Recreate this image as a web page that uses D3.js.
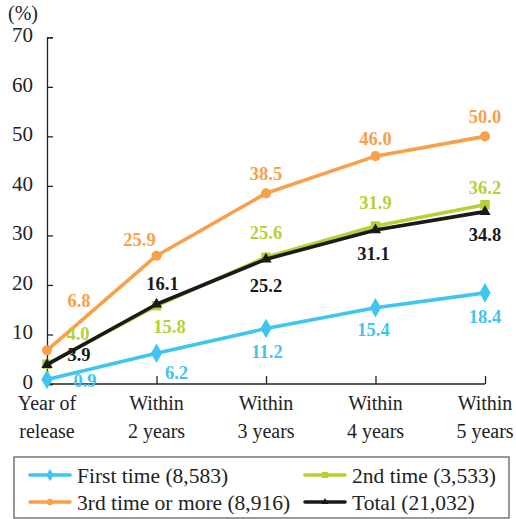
<!DOCTYPE html>
<html><head><meta charset="utf-8">
<script src="https://cdn.jsdelivr.net/npm/d3@7/dist/d3.min.js"></script>
<style>
body{margin:0;background:#fff;}
svg{display:block;font-family:"Liberation Serif","Times New Roman",serif;}
</style></head>
<body>
<svg id="chart" width="516" height="519"></svg>
<script>
const categories = [["Year of","release"],["Within","2 years"],["Within","3 years"],["Within","4 years"],["Within","5 years"]];
const yTicks = [0,10,20,30,40,50,60,70];
const seriesNames = ["First time (8,583)","2nd time (3,533)","3rd time or more (8,916)","Total (21,032)"];
const firstTime = [0.9, 6.2, 11.2, 15.4, 18.4];
const secondTime = [4.0, 15.8, 25.6, 31.9, 36.2];
const thirdTime = [6.8, 25.9, 38.5, 46.0, 50.0];
const total = [3.9, 16.1, 25.2, 31.1, 34.8];

const colors = ["#3fc5f0","#b3d235","#f8a04a","#1a1a1a"];
const symbols = [d3.symbolDiamond, d3.symbolSquare, d3.symbolCircle, d3.symbolTriangle];
const symSizes = [110, 90, 80, 55];
// label offsets (dx, dy relative to point) per series per point
const labelOffsets = [
  [[38,1],[20,19],[1,23],[-2,22],[0,24]],
  [[31,-31],[13,21],[0,-25],[0,-23],[0,-17]],
  [[32,-50],[-17,-16],[0,-20],[0,-18],[0,-20]],
  [[32,-10],[6,-21],[0,26],[-2,24],[0,23]]
];
const values = [firstTime, secondTime, thirdTime, total];

const svg = d3.select("#chart");
const x = d3.scalePoint().domain(d3.range(categories.length)).range([47,485]);
const y = d3.scaleLinear().domain([0,70]).range([384,37.3]);
const FONT = "'Liberation Serif','Times New Roman',serif";

// axes
const yAxis = d3.axisLeft(y).tickValues(yTicks).tickSize(-6).tickPadding(14);
const gy = svg.append("g").attr("transform","translate(47,0)").call(yAxis);
gy.select(".domain").attr("stroke","#222").attr("stroke-width",1.3);
gy.selectAll(".tick line").attr("stroke","#222").attr("stroke-width",1.3);
gy.selectAll(".tick text").attr("font-size",21).attr("fill","#222")
  .attr("font-family",FONT).attr("dy","0.2em").attr("x",-14);

const xAxis = d3.axisBottom(x).tickSize(-8).tickFormat("");
const gx = svg.append("g").attr("transform","translate(0,384)").call(xAxis);
gx.select(".domain").attr("stroke","#222").attr("stroke-width",1.3).attr("d","M47,0H485");
gx.selectAll(".tick line").attr("stroke","#222").attr("stroke-width",1.3);

// x category labels
const xl = svg.append("g").attr("font-size",20).attr("font-family",FONT).attr("text-anchor","middle");
categories.forEach((c,i)=>{
  xl.append("text").attr("x",x(i)).attr("y",410).text(c[0]).attr("fill","#222");
  xl.append("text").attr("x",x(i)).attr("y",438).text(c[1]).attr("fill","#222");
});

svg.append("text").attr("x",8).attr("y",20).attr("font-size",20).attr("font-family",FONT)
  .attr("fill","#222").text("(%)");

// lines
const line = d3.line().x((d,i)=>x(i)).y(d=>y(d));
const order = [0,2,1,3];
order.forEach(s=>{
  svg.append("path").datum(values[s]).attr("d",line).attr("fill","none")
    .attr("stroke",colors[s]).attr("stroke-width",3.6).attr("stroke-linejoin","round");
  svg.append("g").selectAll("path").data(values[s]).join("path")
    .attr("transform",(d,i)=>`translate(${x(i)},${y(d)})`)
    .attr("d",d3.symbol().type(symbols[s]).size(symSizes[s]))
    .attr("fill",colors[s]);
});

// labels
order.forEach(s=>{
  svg.append("g").selectAll("text").data(values[s]).join("text")
    .attr("x",(d,i)=>x(i)+labelOffsets[s][i][0])
    .attr("y",(d,i)=>y(d)+labelOffsets[s][i][1])
    .attr("dy","0.35em")
    .attr("text-anchor","middle")
    .attr("font-family",FONT)
    .attr("font-size",18.5).attr("font-weight","bold")
    .attr("fill",colors[s])
    .text(d=>d.toFixed(1));
});

// legend
svg.append("rect").attr("x",14).attr("y",457).attr("width",495).attr("height",61)
  .attr("fill","#fff").attr("stroke","#555").attr("stroke-width",1.2);
const legPos = [[30,475],[305,475],[30,502],[305,502]];
seriesNames.forEach((n,s)=>{
  const [lx,ly] = legPos[s];
  const g = svg.append("g");
  g.append("line").attr("x1",lx).attr("x2",lx+40).attr("y1",ly).attr("y2",ly)
    .attr("stroke",colors[s]).attr("stroke-width",3.6).attr("stroke-linecap","round");
  g.append("path").attr("transform",`translate(${lx+20},${ly})`)
    .attr("d",d3.symbol().type(symbols[s]).size(symSizes[s]*0.4)).attr("fill",colors[s]);
  g.append("text").attr("x",lx+47).attr("y",ly).attr("dy","0.35em").attr("font-family",FONT)
    .attr("font-size",21.5).attr("fill","#222").text(n);
});
</script>
</body></html>
